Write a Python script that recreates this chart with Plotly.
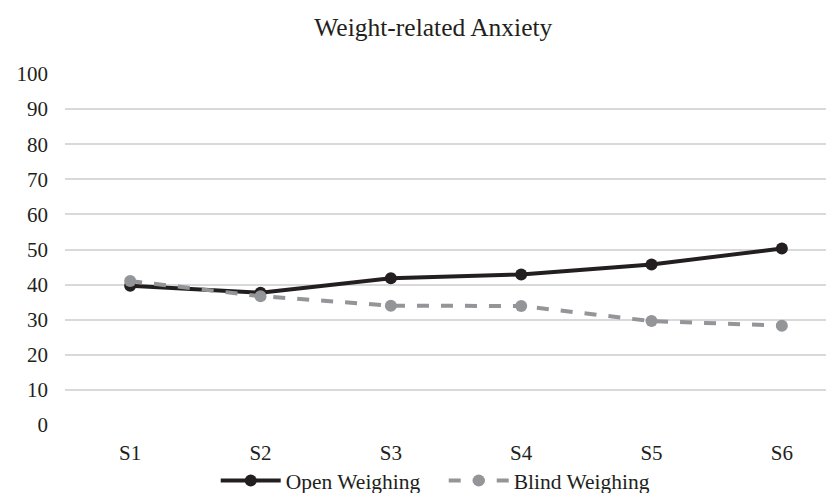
import plotly.graph_objects as go

sessions = ["S1", "S2", "S3", "S4", "S5", "S6"]
open_weighing = [39.7, 37.7, 41.8, 42.9, 45.7, 50.3]
blind_weighing = [41.0, 36.7, 34.0, 33.9, 29.6, 28.3]
y_ticks = [0, 10, 20, 30, 40, 50, 60, 70, 80, 90, 100]

FONT = "Liberation Serif, Times New Roman, serif"

fig = go.Figure()
fig.add_trace(go.Scatter(
    x=sessions, y=open_weighing, name="Open Weighing", mode="lines+markers",
    line=dict(color="#231f20", width=4),
    marker=dict(color="#231f20", size=12),
))
fig.add_trace(go.Scatter(
    x=sessions, y=blind_weighing, name="Blind Weighing", mode="lines+markers",
    line=dict(color="#939598", width=4, dash="dash"),
    marker=dict(color="#939598", size=12),
))

fig.update_layout(
    width=834, height=520,
    paper_bgcolor="white", plot_bgcolor="white",
    margin=dict(l=54, r=8, t=66, b=103),
    font=dict(family=FONT, size=21, color="#231f20"),
    title=dict(text="Weight-related Anxiety", x=0.51, xanchor="center",
               y=1 - 19 / 520, yanchor="middle", yref="container",
               font=dict(family=FONT, size=25.5, color="#231f20")),
    showlegend=True,
    legend=dict(orientation="h", x=0.196, xanchor="left", y=-0.10, yanchor="top",
                bgcolor="rgba(0,0,0,0)",
                font=dict(family=FONT, size=21.5, color="#231f20"),
                itemwidth=60, tracegroupgap=0, entrywidth=153),
    xaxis=dict(range=[-0.5, 5.40], showgrid=False, zeroline=False, showline=False,
               ticks="", ticklabelstandoff=13, tickfont=dict(size=21)),
    yaxis=dict(range=[0, 100], tickvals=y_ticks, showgrid=True, gridcolor="#d9d9d9",
               gridwidth=1.5, zeroline=False, showline=False, ticks="",
               ticklabelstandoff=16, tickfont=dict(size=21)),
)

fig.write_html("out.html")
